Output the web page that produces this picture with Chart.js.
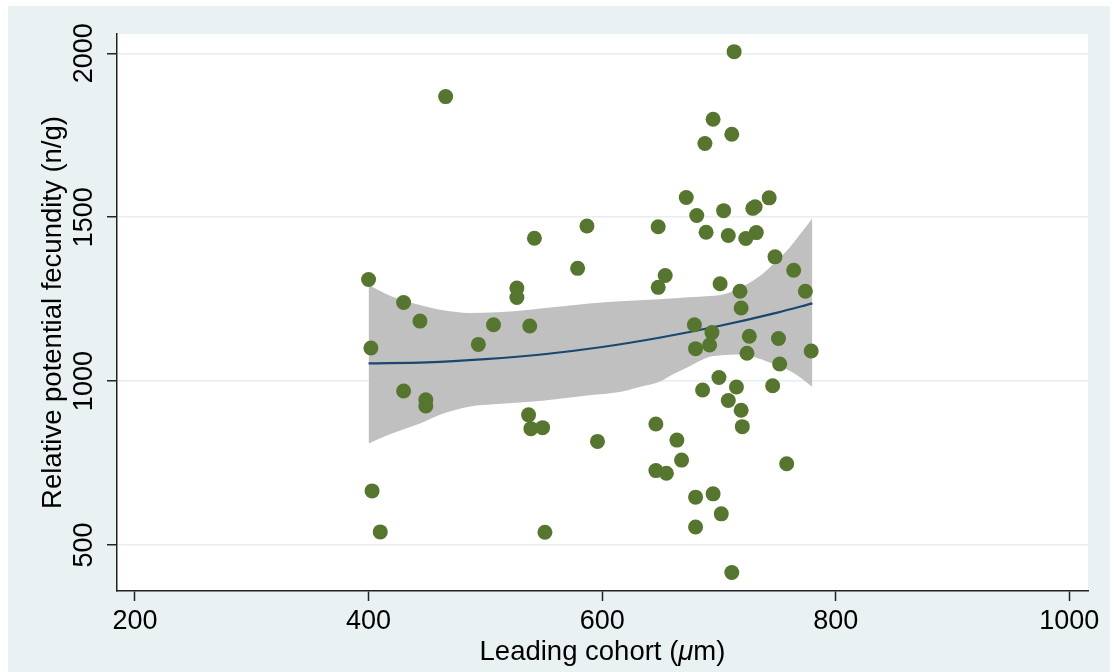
<!DOCTYPE html>
<html lang="en">
<head>
<meta charset="UTF-8">
<title>Relative potential fecundity vs leading cohort</title>
<script src="https://cdn.jsdelivr.net/npm/chart.js"></script>
<style>
  html, body { margin: 0; padding: 0; background: #fff; }
  #wrap { position: absolute; left: 8px; top: 6px; width: 1102px; height: 666px; }
</style>
</head>
<body>
<div id="wrap"><canvas id="chart" width="1102" height="666"></canvas></div>
<script>
// one entry per fish: leading cohort (µm) and relative potential fecundity (n/g)
const cohort = [
  466, 400, 542, 587, 579, 527, 527, 430, 444, 402,
  507, 494, 538, 430, 449, 449, 537, 539, 549, 596,
  403, 410, 551, 713, 695, 711, 688, 672, 743, 681,
  704, 729, 731, 648, 689, 708, 723, 732, 748, 764,
  774, 654, 648, 701, 718, 719, 679, 694, 726, 751,
  692, 680, 724, 752, 779, 700, 686, 715, 746, 708,
  719, 720, 646, 664, 668, 646, 655, 758, 680, 695,
  702, 680, 711
];
const fecundity = [
  1868, 1310, 1436, 1473, 1344, 1284, 1255, 1240, 1183, 1101,
  1172, 1112, 1168, 970, 943, 924, 897, 855, 858, 816,
  665, 540, 539, 2005, 1799, 1753, 1725, 1560, 1559, 1505,
  1520, 1527, 1532, 1471, 1454, 1444, 1435, 1453, 1379, 1338,
  1274, 1322, 1286, 1297, 1274, 1223, 1172, 1148, 1137, 1130,
  1110, 1099, 1085, 1052, 1092, 1011, 973, 982, 986, 941,
  911, 861, 869, 820, 759, 727, 719, 748, 646, 656,
  595, 555, 416
];

// quadratic fit and its 95% confidence band
const fitX = [400, 450, 500, 550, 600, 650, 700, 750, 780];
const fitY = [1054, 1057, 1067, 1082, 1104, 1133, 1168, 1209, 1237];
const bandX = [400, 420, 444, 464, 486, 510, 538, 560, 589, 615, 632, 649, 662, 674, 692, 700, 717, 734, 748, 760, 770, 780];
const bandUpper = [1293, 1258, 1232, 1216, 1208, 1210, 1218, 1226, 1237, 1244, 1247, 1250, 1253, 1256, 1260, 1262, 1282, 1318, 1362, 1405, 1450, 1497];
const bandLower = [810, 840, 871, 901, 922, 930, 937, 945, 957, 967, 982, 998, 1023, 1044, 1074, 1078, 1081, 1069, 1050, 1032, 1010, 982];

const xTicks = [200, 400, 600, 800, 1000];
const yTicks = [500, 1000, 1500, 2000];

// x title pieces, the unit symbol is set in italics
const xTitleParts = [['Leading cohort (', false], ['μ', true], ['m)', false]];

const family = '"Liberation Sans", Arial, Helvetica, sans-serif';
const pts = (xs, ys) => xs.map((x, i) => ({ x: x, y: ys[i] }));

// light frame around a white plot region
const background = {
  id: 'background',
  beforeDraw(chart) {
    const { ctx, chartArea: a } = chart;
    ctx.save();
    ctx.fillStyle = '#eaf1f3';
    ctx.fillRect(0, 0, chart.width, chart.height);
    ctx.fillStyle = '#ffffff';
    ctx.fillRect(a.left, a.top, a.right - a.left, a.bottom - a.top);
    ctx.restore();
  }
};

// x axis title with mixed upright / italic runs
const xTitle = {
  id: 'xTitle',
  afterDraw(chart) {
    const { ctx, chartArea: a } = chart;
    const font = it => (it ? 'italic ' : '') + '27.5px ' + family;
    ctx.save();
    let total = 0;
    xTitleParts.forEach(([t, it]) => { ctx.font = font(it); total += ctx.measureText(t).width; });
    let x = (a.left + a.right) / 2 - total / 2;
    const y = chart.scales.x.bottom - 12;
    ctx.fillStyle = '#000';
    ctx.textBaseline = 'alphabetic';
    ctx.textAlign = 'left';
    xTitleParts.forEach(([t, it]) => {
      ctx.font = font(it);
      ctx.fillText(t, x, y);
      x += ctx.measureText(t).width;
    });
    ctx.restore();
  }
};

const none = 'rgba(0,0,0,0)';

new Chart(document.getElementById('chart'), {
  type: 'scatter',
  data: {
    datasets: [
      {
        data: pts(cohort, fecundity),
        backgroundColor: '#56762f',
        pointRadius: 7.5,
        pointBorderWidth: 0,
        pointHoverRadius: 7.5
      },
      {
        data: pts(fitX, fitY),
        showLine: true,
        borderColor: '#1a476f',
        borderWidth: 2.2,
        pointRadius: 0,
        cubicInterpolationMode: 'monotone'
      },
      {
        data: pts(bandX, bandLower),
        showLine: true,
        borderColor: none,
        borderWidth: 0,
        pointRadius: 0,
        cubicInterpolationMode: 'monotone',
        fill: false
      },
      {
        data: pts(bandX, bandUpper),
        showLine: true,
        borderColor: none,
        borderWidth: 0,
        pointRadius: 0,
        cubicInterpolationMode: 'monotone',
        backgroundColor: '#c0c0c0',
        fill: '-1'
      }
    ]
  },
  options: {
    responsive: false,
    animation: false,
    devicePixelRatio: 1,
    layout: { padding: { top: 28, right: 22, bottom: 0, left: 0 } },
    plugins: {
      legend: { display: false },
      tooltip: { enabled: false }
    },
    scales: {
      x: {
        type: 'linear',
        min: 184.6,
        max: 1016,
        afterBuildTicks: s => { s.ticks = xTicks.map(v => ({ value: v })); },
        afterFit: s => { s.height = 81; },
        grid: { drawOnChartArea: false, tickLength: 10, tickColor: '#222', tickWidth: 1.5 },
        border: { color: '#222', width: 1.5 },
        ticks: {
          color: '#000',
          font: { family: family, size: 27 },
          padding: 4,
          callback: v => String(v)
        },
        title: { display: false }
      },
      y: {
        type: 'linear',
        min: 359.7,
        max: 2058.9,
        afterBuildTicks: s => { s.ticks = yTicks.map(v => ({ value: v })); },
        afterFit: s => { s.width = 109; },
        grid: { color: '#e6eef1', lineWidth: 1.5, tickLength: 10, tickColor: '#222', tickWidth: 1.5 },
        border: { color: '#222', width: 1.5 },
        ticks: {
          color: '#000',
          font: { family: family, size: 27 },
          minRotation: 90,
          maxRotation: 90,
          crossAlign: 'center',
          padding: -8,
          callback: v => String(v)
        },
        title: {
          display: true,
          text: 'Relative potential fecundity (n/g)',
          color: '#000',
          font: { family: family, size: 27.5 },
          padding: { top: 29, bottom: 0 }
        }
      }
    }
  },
  plugins: [background, xTitle]
});
</script>
</body>
</html>
